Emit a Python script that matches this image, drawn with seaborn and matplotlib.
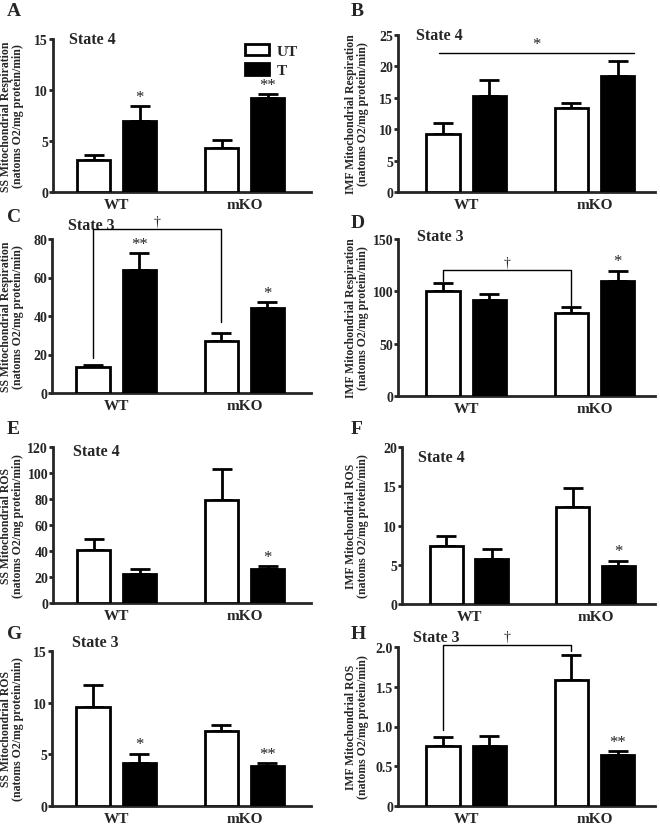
import numpy as np
import pandas as pd
import matplotlib
matplotlib.use('Agg')
import matplotlib.pyplot as plt
import seaborn as sns

# Values, order: WT-UT, WT-T, mKO-UT, mKO-T
groups = ['WT', 'WT', 'mKO', 'mKO']
treatments = ['UT', 'T', 'UT', 'T']

a_mean = [3.16, 6.95, 4.34, 9.2]
a_sem = [0.45, 1.45, 0.8, 0.4]
b_mean = [9.2, 15.3, 13.3, 18.4]
b_sem = [1.8, 2.6, 0.9, 2.4]
c_mean = [13.5, 63.9, 26.9, 44.2]
c_sem = [1.2, 8.6, 4.5, 3.0]
d_mean = [100.5, 91.6, 79.5, 110.1]
d_sem = [7.4, 5.7, 5.4, 9.6]
e_mean = [41.0, 22.6, 79.5, 26.2]
e_sem = [8.0, 3.3, 23.3, 2.0]
f_mean = [7.36, 5.74, 12.4, 4.8]
f_sem = [1.24, 1.26, 2.4, 0.7]
g_mean = [9.58, 4.13, 7.29, 3.84]
g_sem = [2.16, 0.93, 0.58, 0.29]
h_mean = [0.758, 0.754, 1.587, 0.64]
h_sem = [0.105, 0.122, 0.308, 0.046]

ylabels_ss_resp = 'SS Mitochondrial Respiration\n(natoms O2/mg protein/min)'
ylabels_imf_resp = 'IMF Mitochondrial Respiration\n(natoms O2/mg protein/min)'
ylabels_ss_ros = 'SS Mitochondrial ROS\n(natoms O2/mg protein/min)'
ylabels_imf_ros = 'IMF Mitochondrial ROS\n(natoms O2/mg protein/min)'

panels = [
    dict(letter='A', mean=a_mean, sem=a_sem, ylim=15, yticks=[0, 5, 10, 15], ylabel=ylabels_ss_resp,
         state='State 4', stars=[(1, '*'), (3, '**')], bracket=None,
         rect=[53, 40, 311, 193], state_xy=(0.062, 1.0)),
    dict(letter='B', mean=b_mean, sem=b_sem, ylim=25, yticks=[0, 5, 10, 15, 20, 25], ylabel=ylabels_imf_resp,
         state='State 4', stars=[], bracket=None,
         rect=[398, 36, 655, 193], state_xy=(0.07, 1.0)),
    dict(letter='C', mean=c_mean, sem=c_sem, ylim=80, yticks=[0, 20, 40, 60, 80], ylabel=ylabels_ss_resp,
         state='State 3', stars=[(1, '**'), (3, '*')], bracket=(0, 2, 18, 85, 36.8),
         rect=[52, 240, 311, 394], state_xy=(0.062, 1.09)),
    dict(letter='D', mean=d_mean, sem=d_sem, ylim=150, yticks=[0, 50, 100, 150], ylabel=ylabels_imf_resp,
         state='State 3', stars=[(3, '*')], bracket=(0, 2, 110, 120.3, 85.5),
         rect=[398, 240, 655, 397], state_xy=(0.074, 1.02)),
    dict(letter='E', mean=e_mean, sem=e_sem, ylim=120, yticks=[0, 20, 40, 60, 80, 100, 120], ylabel=ylabels_ss_ros,
         state='State 4', stars=[(3, '*')], bracket=None,
         rect=[53, 448, 311, 604], state_xy=(0.078, 0.974)),
    dict(letter='F', mean=f_mean, sem=f_sem, ylim=20, yticks=[0, 5, 10, 15, 20], ylabel=ylabels_imf_ros,
         state='State 4', stars=[(3, '*')], bracket=None,
         rect=[402, 448, 655, 605], state_xy=(0.063, 0.936)),
    dict(letter='G', mean=g_mean, sem=g_sem, ylim=15, yticks=[0, 5, 10, 15], ylabel=ylabels_ss_ros,
         state='State 3', stars=[(1, '*'), (3, '**')], bracket=None,
         rect=[52, 652, 311, 807], state_xy=(0.078, 1.058)),
    dict(letter='H', mean=h_mean, sem=h_sem, ylim=2.0, yticks=[0, 0.5, 1.0, 1.5, 2.0], ylabel=ylabels_imf_ros,
         state='State 3', stars=[(3, '**')], bracket=(0, 2, 0.95, 2.03, 1.945),
         rect=[398, 648, 655, 807], state_xy=(0.058, 1.065)),
]

sns.set_style('ticks')
plt.rcParams['font.family'] = ['Liberation Serif', 'DejaVu Serif']
plt.rcParams['font.weight'] = 'bold'
plt.rcParams['axes.labelweight'] = 'bold'

W, H = 660, 828
fig = plt.figure(figsize=(6.6, 8.28), dpi=100)

for p in panels:
    x0, y0, x1, y1 = p['rect']
    ax = fig.add_axes([x0 / W, 1 - y1 / H, (x1 - x0) / W, (y1 - y0) / H])
    df = pd.DataFrame({'group': groups, 'treatment': treatments, 'value': p['mean']})
    sns.barplot(data=df, x='group', y='value', hue='treatment', hue_order=['UT', 'T'],
                palette={'UT': 'white', 'T': 'black'}, edgecolor='black', linewidth=2,
                errorbar=None, width=0.72, gap=0.28, ax=ax, legend=(p['letter'] == 'A'), zorder=3)

    # bar centres in WT-UT, WT-T, mKO-UT, mKO-T order
    ut_bars, t_bars = ax.containers[0], ax.containers[1]
    bars = [ut_bars[0], t_bars[0], ut_bars[1], t_bars[1]]
    xc = [b.get_x() + b.get_width() / 2 for b in bars]
    mean = np.array(p['mean'])
    sem = np.array(p['sem'])
    ax.errorbar(xc, mean, yerr=[np.zeros_like(sem), sem], fmt='none', ecolor='black',
                elinewidth=2, capsize=7, capthick=2, zorder=2)

    for i, s in p['stars']:
        ax.annotate(s, (xc[i], mean[i] + sem[i]), xytext=(0, 1), textcoords='offset points',
                    ha='center', va='bottom', fontsize=12, color='#222222', fontweight='normal')

    if p['bracket'] is not None:
        i1, i2, yl, yt, yr = p['bracket']
        ax.plot([xc[i1], xc[i1], xc[i2], xc[i2]], [yl, yt, yt, yr], color='black', lw=1,
                clip_on=False, zorder=4)
        ax.annotate('\u2020', ((xc[i1] + xc[i2]) / 2, yt), xytext=(0, 1), textcoords='offset points',
                    ha='center', va='bottom', fontsize=10, fontweight='normal', annotation_clip=False)

    if p['letter'] == 'B':
        ax.plot([xc[0] - 0.03, bars[3].get_x() + bars[3].get_width()], [22.1, 22.1],
                color='black', lw=1, zorder=4)
        ax.annotate('*', ((xc[0] + xc[3]) / 2 + 0.05, 22.1), xytext=(0, 1), textcoords='offset points',
                    ha='center', va='bottom', fontsize=12, color='#222222', fontweight='normal')

    ax.set_xlim(-0.5 if x0 < 300 else -0.53, 1.52 if x0 < 300 else 1.47)
    ax.set_ylim(0, p['ylim'])
    ax.set_yticks(p['yticks'])
    if p['letter'] == 'H':
        ax.set_yticklabels(['0', '0.5', '1.0', '1.5', '2.0'])
    ax.set_xlabel('')
    ax.set_ylabel(p['ylabel'], fontsize=8.5, linespacing=0.95)
    # right edge of the y label a fixed distance left of the spine
    right_px = 24 if x0 < 300 else 369
    ax.yaxis.set_label_coords((right_px - x0) / (x1 - x0), 0.5)
    for side in ['top', 'right']:
        ax.spines[side].set_visible(False)
    for side in ['left', 'bottom']:
        ax.spines[side].set_linewidth(2)
    ax.tick_params(axis='y', direction='out', length=3, width=2, labelsize=10, pad=0.5)
    ax.tick_params(axis='x', length=0, labelsize=11, pad=4)
    for lab in ax.get_xticklabels() + ax.get_yticklabels():
        lab.set_fontweight('bold')

    ax.text(p['state_xy'][0], p['state_xy'][1], p['state'], transform=ax.transAxes,
            ha='left', va='center', fontsize=11.5, fontweight='bold')

    if p['letter'] == 'A':
        ax.legend(loc='upper left', bbox_to_anchor=(0.69, 1.06), frameon=False,
                  handlelength=1.6, handleheight=0.8, labelspacing=0.35, handletextpad=0.5,
                  prop={'weight': 'bold', 'size': 11})

    lx = 7 if x0 < 300 else 351
    ly = {'A': 11, 'B': 12, 'C': 218, 'D': 223, 'E': 430, 'F': 430, 'G': 635, 'H': 635}[p['letter']]
    fig.text(lx / W, 1 - ly / H, p['letter'], ha='left', va='center', fontsize=14, fontweight='bold')

fig.savefig('out.png', dpi=100)
